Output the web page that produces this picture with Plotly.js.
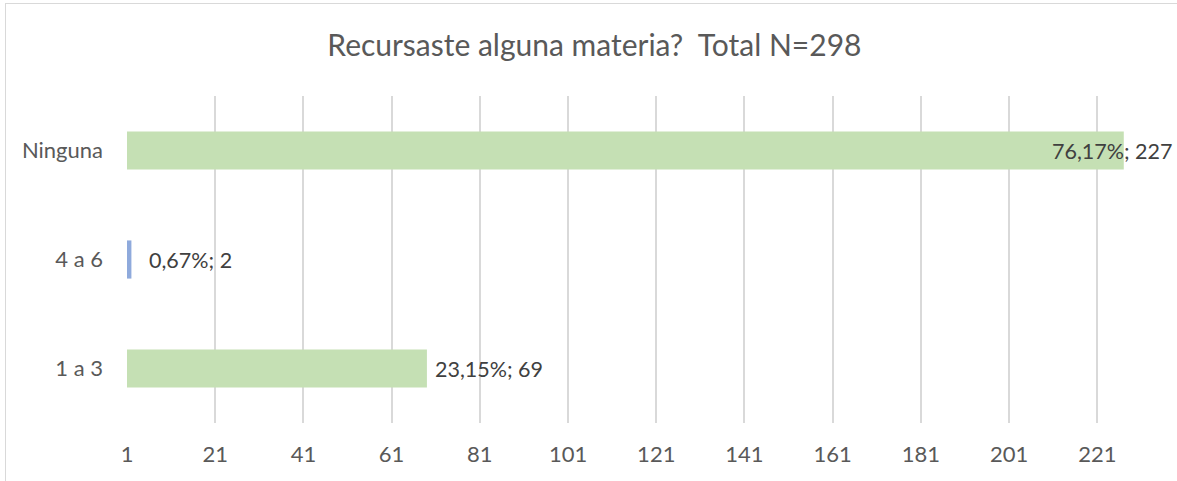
<!DOCTYPE html>
<html>
<head>
<meta charset="utf-8">
<script src="https://cdn.plot.ly/plotly-3.0.1.min.js"></script>
<style>
html,body{margin:0;padding:0;background:#fff;overflow:hidden;}
#wrap{position:relative;width:1177px;height:481px;}
#chart{position:absolute;left:0;top:0;width:1177px;height:481px;}
#frame{position:absolute;left:5px;top:3px;width:1300px;height:600px;border-left:1.5px solid #D9D9D9;border-top:1.5px solid #D9D9D9;pointer-events:none;}
</style>
</head>
<body>
<div id="wrap">
<div id="chart"></div>
<div id="frame"></div>
</div>
<script>
const categories = ["1 a 3", "4 a 6", "Ninguna"];
const values = [69, 2, 227];
const percentLabels = ["23,15%", "0,67%", "76,17%"];
const barColors = ["#C5E0B4", "#8FAADC", "#C5E0B4"];
const tickValues = [1, 21, 41, 61, 81, 101, 121, 141, 161, 181, 201, 221];
const titleText = "Recursaste alguna materia?\u00a0\u00a0Total N=298";

// label placement style (not data)
const labelAnchor = ["left", "left", "right"];
const labelShift = [6, 16, 51];

const fontFam = "Lato, 'Open Sans', sans-serif";

const trace = {
  type: "bar",
  orientation: "h",
  y: categories,
  x: values,
  base: 0,
  marker: {color: barColors},
  hoverinfo: "none"
};

const annotations = categories.map((c, i) => ({
  x: values[i],
  y: c,
  xref: "x",
  yref: "y",
  text: percentLabels[i] + "; " + values[i],
  showarrow: false,
  xanchor: labelAnchor[i],
  yanchor: "middle",
  xshift: labelShift[i],
  font: {family: fontFam, size: 21.5, color: "#404040"}
}));

const layout = {
  width: 1177,
  height: 481,
  margin: {l: 127, r: 10, t: 96, b: 58},
  paper_bgcolor: "rgba(0,0,0,0)",
  plot_bgcolor: "rgba(0,0,0,0)",
  showlegend: false,
  bargap: 0.65,
  title: {
    text: titleText,
    font: {family: fontFam, size: 30, color: "#595959"},
    x: 0.505,
    xref: "container",
    xanchor: "center",
    y: 0.905,
    yref: "container",
    yanchor: "middle"
  },
  xaxis: {
    range: [1, 236.8],
    tickmode: "array",
    tickvals: tickValues,
    ticktext: tickValues.map(String),
    showgrid: true,
    gridcolor: "#D9D9D9",
    gridwidth: 2,
    zeroline: false,
    showline: false,
    ticks: "",
    ticklabelstandoff: 16,
    tickfont: {family: fontFam, size: 22, color: "#595959"},
    fixedrange: true
  },
  yaxis: {
    type: "category",
    categoryorder: "array",
    categoryarray: categories,
    showgrid: false,
    zeroline: false,
    showline: false,
    ticks: "",
    ticklabelstandoff: 23,
    tickfont: {family: fontFam, size: 22, color: "#595959"},
    fixedrange: true
  },
  annotations: annotations
};

Plotly.newPlot("chart", [trace], layout, {displayModeBar: false, staticPlot: true});
</script>
</body>
</html>
